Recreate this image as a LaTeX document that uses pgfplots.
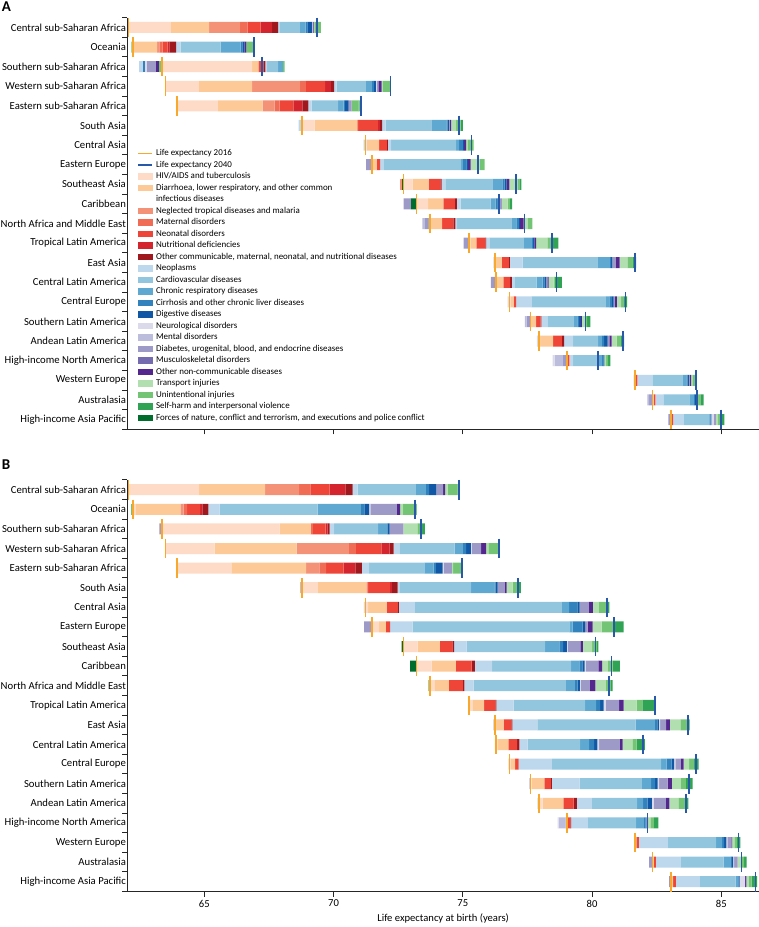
\documentclass[border=0pt]{standalone}
\usepackage{pgfplots}
\usepackage{pgfplotstable}
\usepackage{fontspec}
\setmainfont{Carlito}
\pgfplotsset{compat=1.18}

\definecolor{c1}{RGB}{253,219,199}
\definecolor{c2}{RGB}{253,201,150}
\definecolor{c3}{RGB}{244,146,120}
\definecolor{c4}{RGB}{241,108,84}
\definecolor{c5}{RGB}{239,69,57}
\definecolor{c6}{RGB}{212,36,46}
\definecolor{c7}{RGB}{158,24,30}
\definecolor{c8}{RGB}{189,215,236}
\definecolor{c9}{RGB}{146,197,222}
\definecolor{c10}{RGB}{94,168,210}
\definecolor{c11}{RGB}{49,130,189}
\definecolor{c12}{RGB}{16,88,165}
\definecolor{c13}{RGB}{218,218,235}
\definecolor{c14}{RGB}{188,189,220}
\definecolor{c15}{RGB}{158,154,200}
\definecolor{c16}{RGB}{117,107,177}
\definecolor{c17}{RGB}{84,39,143}
\definecolor{c18}{RGB}{178,223,176}
\definecolor{c19}{RGB}{116,196,118}
\definecolor{c20}{RGB}{49,163,84}
\definecolor{c21}{RGB}{0,109,44}
\definecolor{le16}{RGB}{247,168,45}
\definecolor{le40}{RGB}{40,88,168}

% columns: y, start, negative side (n3 n8 n11 n13 n14 n15 n17 n19 n21), positive side p1..p21
\pgfplotstableread{
y s n3 n8 n11 n13 n14 n15 n17 n19 n21 p1 p2 p3 p4 p5 p6 p7 p8 p9 p10 p11 p12 p13 p14 p15 p16 p17 p18 p19 p20 p21
0 62.06 0 0 0 0 0 0 0 0 0 1.65 1.48 1.19 0.30 0.50 0.44 0.24 0.04 0.80 0.22 0.07 0.17 0 0 0.03 0.03 0.03 0.02 0.24 0 0
1 62.18 0 0 0 0 0 0 0 0.05 0 0 0.94 0.09 0.13 0.19 0.07 0.26 0.17 1.55 0.77 0.07 0.09 0 0 0 0 0.07 0 0.33 0 0
2 62.48 0 0.14 0.07 0.08 0 0.36 0.10 0.14 0 3.48 0.24 0 0.03 0.12 0.05 0.07 0.07 0.43 0.18 0 0 0 0 0 0 0 0 0.07 0 0
3 63.50 0 0 0 0 0 0 0 0 0 1.29 2.06 1.85 0.23 0.74 0.23 0.12 0.10 1.13 0.23 0.08 0.08 0.04 0 0.05 0 0.13 0.05 0.27 0.04 0
4 63.95 0 0 0 0 0 0 0 0 0 1.57 1.74 0.46 0.19 0.54 0.34 0.24 0.12 1.03 0.21 0.05 0.14 0 0 0.12 0 0 0 0.27 0.04 0
5 68.65 0 0.14 0 0 0 0 0 0 0 0.48 1.64 0.04 0 0.76 0.08 0.09 0.13 1.77 0.58 0.05 0.05 0 0 0.04 0 0.05 0.19 0.18 0.08 0
6 71.16 0 0.08 0 0 0 0 0 0 0 0.04 0.48 0 0 0.30 0 0.04 0.13 2.51 0.12 0.14 0.05 0 0 0 0 0.08 0.07 0.22 0 0
7 71.26 0 0 0 0 0 0.22 0 0 0 0.04 0.15 0 0 0.13 0 0 0.13 3.01 0.06 0.14 0.07 0 0 0 0 0.09 0.35 0.19 0 0
8 72.57 0.08 0 0 0 0 0 0 0 0.06 0.35 0.62 0 0 0.44 0.02 0.04 0.15 1.81 0.39 0.09 0.08 0 0 0 0 0.10 0.31 0.08 0.08 0
9 72.71 0 0 0 0 0 0.28 0 0 0.22 0.45 0.59 0 0 0.44 0 0.08 0.15 1.16 0.19 0.07 0.07 0 0 0.10 0 0 0.22 0.09 0.09 0
10 73.44 0 0 0 0 0.07 0.17 0 0 0.05 0.04 0.43 0 0 0.44 0 0.07 0.07 2.10 0.19 0.10 0.04 0 0 0 0 0.14 0.17 0.17 0 0
11 75.03 0 0 0 0 0 0.22 0 0 0 0.04 0.24 0 0 0.34 0 0.03 0.13 1.33 0.32 0.04 0.05 0 0 0 0 0.07 0.43 0.12 0.31 0
12 76.18 0 0 0 0.07 0 0 0 0 0 0.04 0.22 0 0 0.27 0 0.04 0.49 2.90 0.48 0.05 0.05 0 0 0.13 0 0.15 0.30 0.19 0.15 0
13 76.09 0 0 0 0 0 0.19 0 0 0 0.03 0.26 0 0 0.26 0 0.07 0.10 0.86 0.23 0.07 0.07 0 0 0.04 0 0.05 0.19 0.04 0.28 0
14 76.73 0 0 0 0.07 0 0 0 0 0 0.04 0.13 0 0 0.09 0 0 0.61 2.87 0.13 0.10 0.07 0 0 0.04 0 0.08 0.17 0.08 0.15 0
15 77.40 0 0 0 0 0.07 0.15 0 0 0 0.02 0.20 0 0 0.17 0 0.03 0.23 1.01 0.15 0.07 0.07 0 0 0 0 0.04 0.12 0.08 0.13 0
16 77.87 0 0 0 0.03 0 0 0 0 0.05 0.04 0.50 0 0 0.34 0 0.09 0.35 0.97 0.14 0.09 0.13 0 0 0.07 0 0.09 0.19 0.15 0.14 0
17 78.48 0 0 0 0.07 0.30 0.18 0 0 0 0 0.04 0 0 0.05 0 0 0.15 0.90 0.22 0.05 0.04 0 0 0 0 0 0.07 0.07 0.09 0
18 81.62 0 0 0 0 0 0.05 0 0 0 0 0.03 0 0 0.05 0 0 0.58 1.17 0.15 0.05 0.05 0 0 0.04 0 0.04 0.05 0.08 0.08 0
19 82.14 0 0 0 0 0.07 0.13 0 0 0 0 0.04 0 0 0.07 0 0 0.31 1.01 0.17 0.04 0.05 0 0 0 0 0 0.07 0.09 0.13 0
20 82.95 0 0 0 0 0 0.10 0 0 0 0 0.04 0 0 0.05 0 0 0.41 0.97 0.03 0.04 0.03 0.08 0 0.09 0 0 0.09 0.09 0.15 0
}\tabA

\pgfplotstableread{
y s n3 n8 n11 n13 n14 n15 n17 n19 n21 p1 p2 p3 p4 p5 p6 p7 p8 p9 p10 p11 p12 p13 p14 p15 p16 p17 p18 p19 p20 p21
0 62.06 0 0 0 0 0 0 0 0 0 2.74 2.55 1.32 0.43 0.75 0.61 0.28 0.19 2.25 0.39 0.13 0.28 0 0 0.26 0 0.08 0.09 0.39 0.04 0
1 62.18 0 0 0 0 0 0 0 0.05 0 0.10 1.74 0.13 0.13 0.51 0.08 0.24 0.43 3.79 1.68 0.13 0.19 0.04 0 1.03 0 0.13 0.10 0.43 0.10 0
2 63.26 0 0 0 0 0 0.07 0.04 0 0 4.54 1.20 0 0.09 0.49 0.08 0.08 0.17 1.70 0.36 0 0.09 0 0 0.53 0 0 0.54 0.19 0.10 0
3 63.50 0 0 0 0 0 0 0 0 0 1.90 3.17 2.02 0.27 0.99 0.32 0.15 0.23 2.13 0.32 0.13 0.18 0.04 0 0.36 0 0.19 0.09 0.39 0.03 0
4 63.95 0 0 0 0 0 0 0 0 0 2.10 2.89 0.51 0.26 0.68 0.45 0.26 0.28 2.13 0.36 0.09 0.26 0.04 0 0.32 0 0 0.05 0.32 0.04 0
5 68.72 0 0 0 0 0 0.07 0 0 0 0.60 1.88 0.07 0 0.84 0.08 0.22 0.07 2.77 0.90 0.05 0.08 0 0 0.28 0 0.07 0.23 0.24 0.08 0
6 71.17 0 0 0 0.07 0 0 0 0 0 0.10 0.71 0 0 0.44 0 0.04 0.62 5.68 0.28 0.32 0.09 0 0 0.36 0 0.15 0.23 0.32 0.09 0
7 71.18 0 0 0 0 0 0.30 0 0 0 0.28 0.26 0 0 0.17 0 0 0.87 6.06 0.13 0.39 0.09 0 0 0.10 0 0.19 0.35 0.49 0.36 0
8 72.63 0 0 0 0 0 0 0 0 0.08 0.54 0.86 0 0 0.49 0 0.06 0.49 3.04 0.55 0.14 0.15 0.03 0 0.49 0 0.10 0.35 0.19 0.06 0
9 72.96 0 0 0 0 0 0 0 0 0.25 0.58 0.94 0 0 0.61 0 0.13 0.66 3.06 0.32 0.12 0.08 0.05 0 0.49 0 0.14 0.22 0.19 0.28 0
10 73.68 0 0 0 0 0 0 0 0 0.05 0.17 0.56 0 0 0.54 0 0.06 0.36 3.57 0.35 0.10 0.09 0.03 0 0.36 0 0.21 0.41 0.19 0.07 0
11 75.25 0 0 0 0 0 0 0 0 0 0.12 0.46 0 0 0.43 0 0.04 0.67 2.76 0.43 0.15 0.14 0.09 0 0.51 0 0.17 0.51 0.22 0.51 0
12 76.17 0 0 0 0.08 0 0 0 0 0 0.04 0.29 0 0 0.30 0 0.04 0.97 3.80 0.74 0.10 0.06 0.04 0 0.24 0 0.14 0.41 0.27 0.09 0
13 76.24 0 0 0 0.04 0 0 0 0 0 0.09 0.39 0 0 0.34 0 0.09 0.32 2.03 0.35 0.19 0.13 0.06 0 0.81 0 0.10 0.38 0.17 0.31 0
14 76.76 0 0 0 0.04 0 0 0 0 0 0.04 0.18 0 0 0.14 0 0 1.29 4.22 0.22 0.19 0.10 0.04 0 0.22 0 0.10 0.22 0.19 0.17 0
15 77.58 0 0 0 0 0.04 0 0 0 0 0.04 0.50 0 0 0.25 0 0.04 1.07 2.41 0.36 0.15 0.10 0.06 0 0.32 0 0.17 0.35 0.19 0.26 0
16 77.90 0 0 0 0 0 0 0 0 0.05 0.14 0.80 0 0 0.40 0 0.12 0.58 1.75 0.24 0.17 0.17 0.06 0 0.48 0 0.13 0.35 0.30 0.09 0
17 78.67 0 0 0 0.04 0.27 0.05 0 0 0 0 0.03 0 0 0.10 0 0.03 0.65 1.87 0.30 0.06 0.03 0 0 0.07 0 0 0.09 0.13 0.18 0
18 81.63 0 0 0 0.04 0 0 0 0 0 0 0.05 0 0 0.09 0 0 1.12 1.87 0.23 0.08 0.09 0.04 0 0.15 0 0.03 0.09 0.09 0.14 0
19 82.21 0 0 0 0 0 0.13 0 0 0 0 0.05 0 0 0.08 0 0 0.97 1.65 0.28 0.04 0.05 0.04 0 0.13 0 0 0.13 0.12 0.10 0
20 82.98 0 0 0 0 0 0.07 0 0 0 0 0.09 0 0 0.10 0 0 0.93 1.39 0.10 0 0.05 0.21 0 0 0 0.05 0.10 0.10 0.22 0
}\tabB

% life expectancy 2016 (o), 2040 in panel A (a) and panel B (b)
\pgfplotstableread{
y o a b
0 62.06 69.37 74.85
1 62.23 66.93 73.15
2 63.37 67.23 73.38
3 63.50 72.21 76.40
4 63.95 71.06 74.96
5 68.79 74.86 77.14
6 71.24 75.34 80.57
7 71.48 75.58 80.86
8 72.71 77.06 80.14
9 73.21 76.41 80.76
10 73.73 77.38 80.66
11 75.25 78.44 82.44
12 76.25 81.67 83.72
13 76.28 78.63 81.98
14 76.80 81.29 84.02
15 77.62 79.75 83.76
16 77.95 81.19 83.63
17 79.03 80.22 82.14
18 81.67 84.02 85.66
19 82.34 84.07 85.79
20 83.05 84.98 86.33
}\tabL

\newcommand{\bars}[1]{%
  \addplot[draw=none,fill=none] table[x=s,y=y]{#1};
  \addplot[draw=none,fill=c3] table[x=n3,y=y]{#1};
  \addplot[draw=none,fill=c8] table[x=n8,y=y]{#1};
  \addplot[draw=none,fill=c11] table[x=n11,y=y]{#1};
  \addplot[draw=none,fill=c13] table[x=n13,y=y]{#1};
  \addplot[draw=none,fill=c14] table[x=n14,y=y]{#1};
  \addplot[draw=none,fill=c15] table[x=n15,y=y]{#1};
  \addplot[draw=none,fill=c17] table[x=n17,y=y]{#1};
  \addplot[draw=none,fill=c19] table[x=n19,y=y]{#1};
  \addplot[draw=none,fill=c21] table[x=n21,y=y]{#1};
  \pgfplotsinvokeforeach{1,...,21}{\addplot[draw=none,fill=c##1] table[x=p##1,y=y]{#1};}
}
\newcommand{\legbox}[2]{\addlegendimage{legend image code/.code={\fill[#1] (0pt,-2.7pt) rectangle (14pt,2.7pt);}}\addlegendentry{#2}}

\pgfplotsset{
  panel/.style={
    scale only axis, width=631.7pt, height=411.6pt,
    xmin=62.02, xmax=86.46, ymin=-0.5, ymax=20.5, y dir=reverse,
    enlargelimits=false,
  },
  barpanel/.style={panel,
    xbar stacked, bar width=11pt,
    axis x line*=bottom, axis y line*=left,
    axis line style={line width=0.9pt, black!85},
    tick align=outside, major tick length=5pt,
    tick style={line width=0.9pt, black!85},
    ytick={-0.5,0.5,...,20.5}, yticklabels={},
    extra y ticks={0,1,...,20},
    extra y tick labels={Central sub-Saharan Africa, Oceania, Southern sub-Saharan Africa, Western sub-Saharan Africa, Eastern sub-Saharan Africa, South Asia, Central Asia, Eastern Europe, Southeast Asia, Caribbean, North Africa and Middle East, Tropical Latin America, East Asia, Central Latin America, Central Europe, Southern Latin America, Andean Latin America, High-income North America, Western Europe, Australasia, High-income Asia Pacific},
    extra y tick style={major tick length=0pt, tick style={draw=none}},
    yticklabel style={font=\fontsize{10.7}{12}\selectfont, inner xsep=1.2pt},
    xtick={65,70,75,80,85},
    /pgf/number format/assume math mode=true,
    xticklabel style={font=\fontsize{10.6}{12}\selectfont},
  },
  linepanel/.style={panel, hide axis, clip=false},
  le/.style={only marks, mark=|, mark size=9.8pt, mark options={line width=1.6pt}, forget plot},
}

\begin{document}
\begin{tikzpicture}
\useasboundingbox (0,0) rectangle (759pt,927pt);

% ---------------- Panel A ----------------
\begin{axis}[barpanel, at={(127.3pt,497.7pt)}, anchor=south west, xticklabels={}]
\bars{\tabA}
\end{axis}
\begin{axis}[linepanel, at={(127.3pt,497.7pt)}, anchor=south west,
  legend style={at={(0.0158,0.6845)}, anchor=north west, draw=none, fill=none,
    inner sep=0pt, outer sep=0pt, row sep=0pt, column sep=0pt,
    font=\fontsize{8.95}{9}\selectfont,
    nodes={text height=6.6pt, text depth=2pt, inner ysep=1.45pt, inner xsep=3.3pt}},
  legend cell align=left]
\addplot[le, le16] table[x=o,y=y]{\tabL};
\addplot[le, le40] table[x=a,y=y]{\tabL};
\addlegendimage{legend image code/.code={\draw[le16, line width=1.5pt] (0pt,0pt) -- (14pt,0pt);}}
\addlegendentry{Life expectancy 2016}
\addlegendimage{legend image code/.code={\draw[le40, line width=1.5pt] (0pt,0pt) -- (14pt,0pt);}}
\addlegendentry{Life expectancy 2040}
\legbox{c1}{HIV/AIDS and tuberculosis}
\legbox{c2}{Diarrhoea, lower respiratory, and other common}
\addlegendimage{empty legend}\addlegendentry{infectious diseases}
\legbox{c3}{Neglected tropical diseases and malaria}
\legbox{c4}{Maternal disorders}
\legbox{c5}{Neonatal disorders}
\legbox{c6}{Nutritional deficiencies}
\legbox{c7}{Other communicable, maternal, neonatal, and nutritional diseases}
\legbox{c8}{Neoplasms}
\legbox{c9}{Cardiovascular diseases}
\legbox{c10}{Chronic respiratory diseases}
\legbox{c11}{Cirrhosis and other chronic liver diseases}
\legbox{c12}{Digestive diseases}
\legbox{c13}{Neurological disorders}
\legbox{c14}{Mental disorders}
\legbox{c15}{Diabetes, urogenital, blood, and endocrine diseases}
\legbox{c16}{Musculoskeletal disorders}
\legbox{c17}{Other non-communicable diseases}
\legbox{c18}{Transport injuries}
\legbox{c19}{Unintentional injuries}
\legbox{c20}{Self-harm and interpersonal violence}
\legbox{c21}{Forces of nature, conflict and terrorism, and executions and police conflict}
\end{axis}

% ---------------- Panel B ----------------
\begin{axis}[barpanel, at={(127.3pt,35.5pt)}, anchor=south west,
  xlabel={Life expectancy at birth (years)},
  xlabel style={font=\fontsize{10.6}{12}\selectfont, at={(axis description cs:0.5,0)}, anchor=center, yshift=-26.5pt}]
\bars{\tabB}
\end{axis}
\begin{axis}[linepanel, at={(127.3pt,35.5pt)}, anchor=south west]
\addplot[le, le16] table[x=o,y=y]{\tabL};
\addplot[le, le40] table[x=b,y=y]{\tabL};
\end{axis}

\node[anchor=base west, inner sep=0pt, font=\bfseries\fontsize{15}{15}\selectfont] at (1.7pt,915.3pt) {A};
\node[anchor=base west, inner sep=0pt, font=\bfseries\fontsize{15}{15}\selectfont] at (1.7pt,457pt) {B};
\end{tikzpicture}
\end{document}
